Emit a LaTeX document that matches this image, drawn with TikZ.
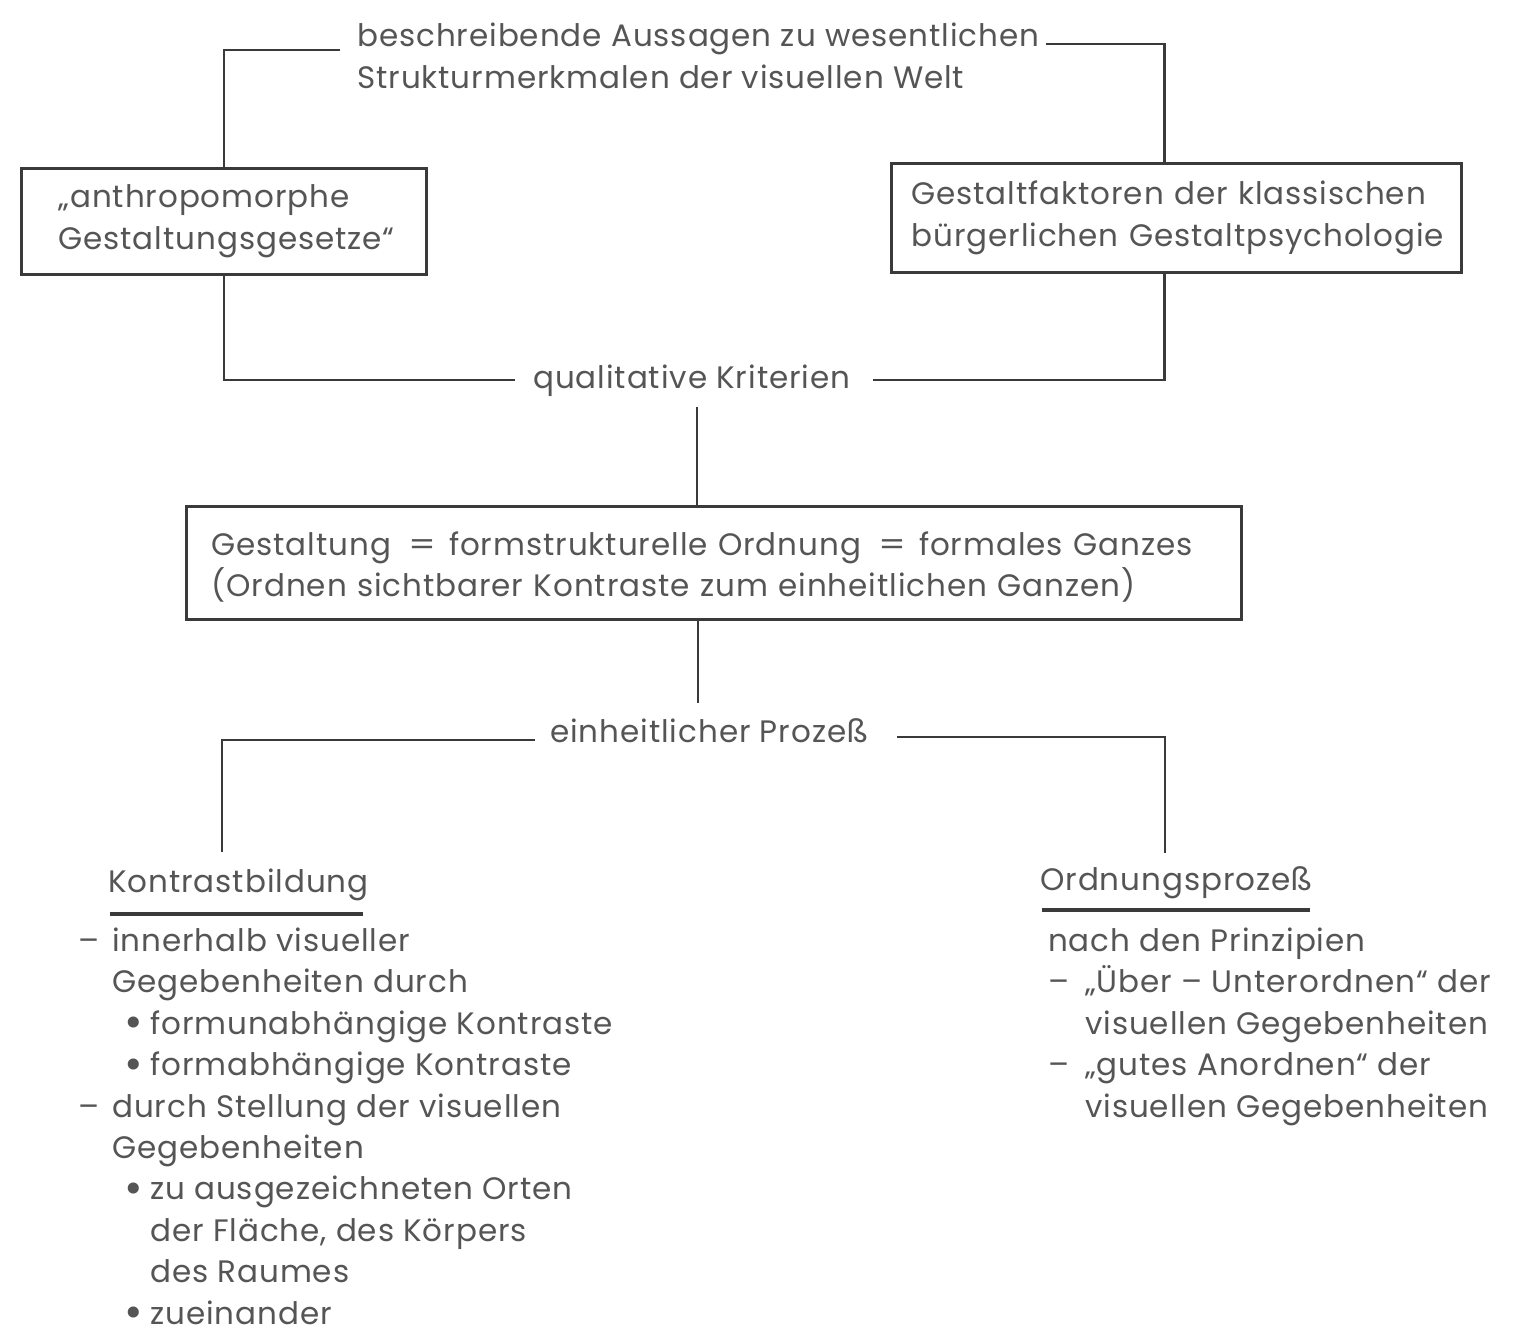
\documentclass[tikz,border=0pt]{standalone}
\usepackage{fontspec}
\setmainfont{Poppins}[LetterSpace=3]
\usetikzlibrary{calc}
\definecolor{txt}{HTML}{555555}
\definecolor{ln}{HTML}{3A3A3A}
\newcommand\kdash{\makebox[34pt][l]{–}}
\newcommand\kind{\hspace*{34pt}}
\newcommand\mybul{\raisebox{-0.12em}{\scalebox{1.45}{\textbullet}}}
\newcommand\kbul{\hspace*{46pt}\makebox[26pt][l]{\mybul}}
\newcommand\kbind{\hspace*{72pt}}
\newcommand\odash{\makebox[37pt][l]{–}}
\newcommand\oind{\hspace*{37pt}}
\newcommand\myeq{\hspace{17pt}\scalebox{1.25}[1]{=}\hspace{13pt}}
\begin{document}
\begin{tikzpicture}[x=1pt,y=-1pt,
  every node/.style={text=txt, font=\fontsize{31}{41.4}\selectfont},
  conn/.style={draw=ln, line width=2.6pt},
  box/.style={draw=ln, line width=2.8pt, inner ysep=0pt, align=left, anchor=north west},
  lbl/.style={inner sep=0pt, anchor=base west, align=left},
  uline/.style={draw=ln, line width=4.5pt}]
\useasboundingbox[fill=white] (0,0) rectangle (1525,1334);
% top label (anchored at the baseline of its last line)
\node[lbl] (top) at (357,88) {beschreibende Aussagen zu wesentlichen\\Strukturmerkmalen der visuellen Welt};
% boxes
\node[box, minimum width=405, minimum height=106, inner xsep=37, text width=331] (bl) at (20,167) {\mbox{„anthropomorphe}\\\mbox{Gestaltungsgesetze“}};
\node[box, minimum width=570, minimum height=109, inner xsep=20, text width=530] (br) at (890,162) {\mbox{Gestaltfaktoren der klassischen}\\\mbox{bürgerlichen Gestaltpsychologie}};
\coordinate (tl) at (340,50);
\coordinate (tr) at (1046,44);
\draw[conn] (tl) -| (bl.north);
\draw[conn] (tr) -| ([xshift=-12pt]br.north);
% qualitative Kriterien
\node[lbl] (qk) at (533,388) {qualitative Kriterien};
\coordinate (qkl) at (515,380);
\coordinate (qkr) at (873,380);
\draw[conn] (bl.south) |- (qkl);
\draw[conn] (qkr) -| ([xshift=-12pt]br.south);
% middle box
\node[box, minimum width=1055, minimum height=113, inner xsep=25, text width=1005] (mb) at (185,505) {\mbox{\rule{0pt}{32pt}Gestaltung\myeq formstrukturelle Ordnung\myeq formales Ganzes}\\\mbox{(Ordnen sichtbarer Kontraste zum einheitlichen Ganzen)}};
\coordinate (qkb) at (697,407);
\draw[conn] (qkb) -- (qkb |- mb.north);
\coordinate (ept) at (698,703);
\draw[conn] (mb.south -| ept) -- (ept);
% einheitlicher Prozess
\node[lbl] (eh) at (550,742) {einheitlicher Prozeß};
\coordinate (ehl) at (535,740);
\coordinate (ehr) at (897,737);
\coordinate (kt) at (222,852);
\coordinate (ot) at (1165,853);
\draw[conn] (ehl) -| (kt);
\draw[conn] (ehr) -| (ot);
% Kontrastbildung
\node[lbl] (kb) at (108,892) {Kontrastbildung};
\coordinate (kbu1) at (110,914);
\coordinate (kbu2) at (363,914);
\draw[uline] (kbu1) -- (kbu2);
\node[lbl] (kl) at (78,1324) {\kdash innerhalb visueller\\\kind Gegebenheiten durch\\\kbul formunabhängige Kontraste\\\kbul formabhängige Kontraste\\\kdash durch Stellung der visuellen\\\kind Gegebenheiten\\\kbul zu ausgezeichneten Orten\\\kbind der Fläche, des Körpers\\\kbind des Raumes\\\kbul zueinander};
% Ordnungsprozess
\node[lbl] (op) at (1040,890) {Ordnungsprozeß};
\coordinate (opu1) at (1042,910);
\coordinate (opu2) at (1310,910);
\draw[uline] (opu1) -- (opu2);
\node[lbl] (ol) at (1048,1117) {nach den Prinzipien\\\odash „Über – Unterordnen“ der\\\oind visuellen Gegebenheiten\\\odash „gutes Anordnen“ der\\\oind visuellen Gegebenheiten};
\end{tikzpicture}
\end{document}
